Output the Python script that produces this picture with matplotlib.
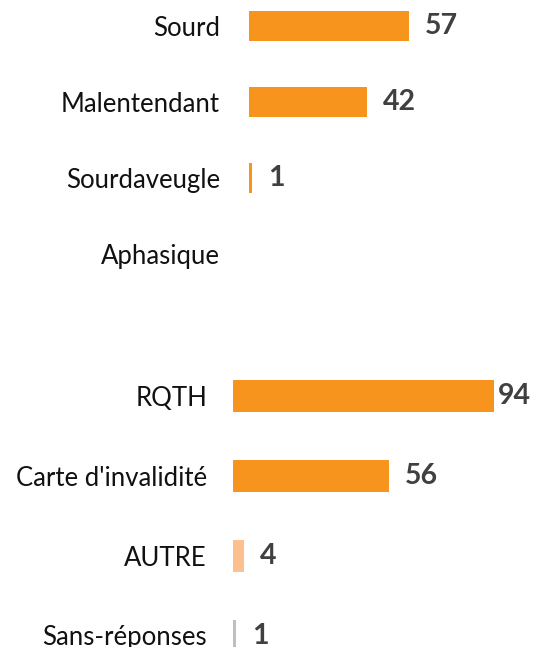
import matplotlib
matplotlib.use('Agg')
import matplotlib.pyplot as plt

W, H = 537, 647

top_labels = ['Sourd', 'Malentendant', 'Sourdaveugle', 'Aphasique']
top_values = [57, 42, 1, 0]

bottom_labels = ['RQTH', "Carte d'invalidité", 'AUTRE', 'Sans-réponses']
bottom_values = [94, 56, 4, 1]
bottom_colors = ['#F7941D', '#F7941D', '#FBC08E', '#BFBFBF']

ORANGE = '#F7941D'
FONT = 'Lato'


def px_axes(fig, left, top, right, bottom):
    # pixel box -> figure fraction
    return fig.add_axes([left / W, 1 - bottom / H, (right - left) / W, (bottom - top) / H])


def draw_group(ax, labels, values, colors, px_per_unit, width_px, first_center, step, top_px, bottom_px, pad_px):
    n = len(labels)
    ys = list(range(n))
    ax.barh(ys, values, height=0.4, color=colors)
    xmax = width_px / px_per_unit
    ax.set_xlim(0, xmax)
    y_top = -(first_center - top_px) / step
    y_bot = (bottom_px - first_center) / step
    ax.set_ylim(y_bot, y_top)
    ax.set_yticks(ys)
    ax.set_yticklabels(labels, fontsize=18.5, family=FONT, color='#111111')
    ax.tick_params(axis='y', length=0, pad=pad_px * 0.72)
    ax.set_xticks([])
    for s in ax.spines.values():
        s.set_visible(False)
    gap = 16 / px_per_unit
    for y, v in zip(ys, values):
        if v == 0:
            continue
        x = v + gap
        ha = 'left'
        if x + 34 / px_per_unit > xmax:
            x, ha = xmax, 'right'
        ax.text(x, y, str(v), ha=ha, va='center', fontsize=20.5,
                fontweight='bold', family=FONT, color='#404040', clip_on=False)


fig = plt.figure(figsize=(W / 100, H / 100), dpi=100)

ax1 = px_axes(fig, 249, 0, 537, 290)
draw_group(ax1, top_labels, top_values, ORANGE, 2.81, 288, 26, 76, 0, 290, 29)

ax2 = px_axes(fig, 233, 360, 531, 647)
draw_group(ax2, bottom_labels, bottom_values, bottom_colors, 2.78, 298, 395.5, 80, 360, 647, 26)

fig.savefig('out.png', dpi=100)
